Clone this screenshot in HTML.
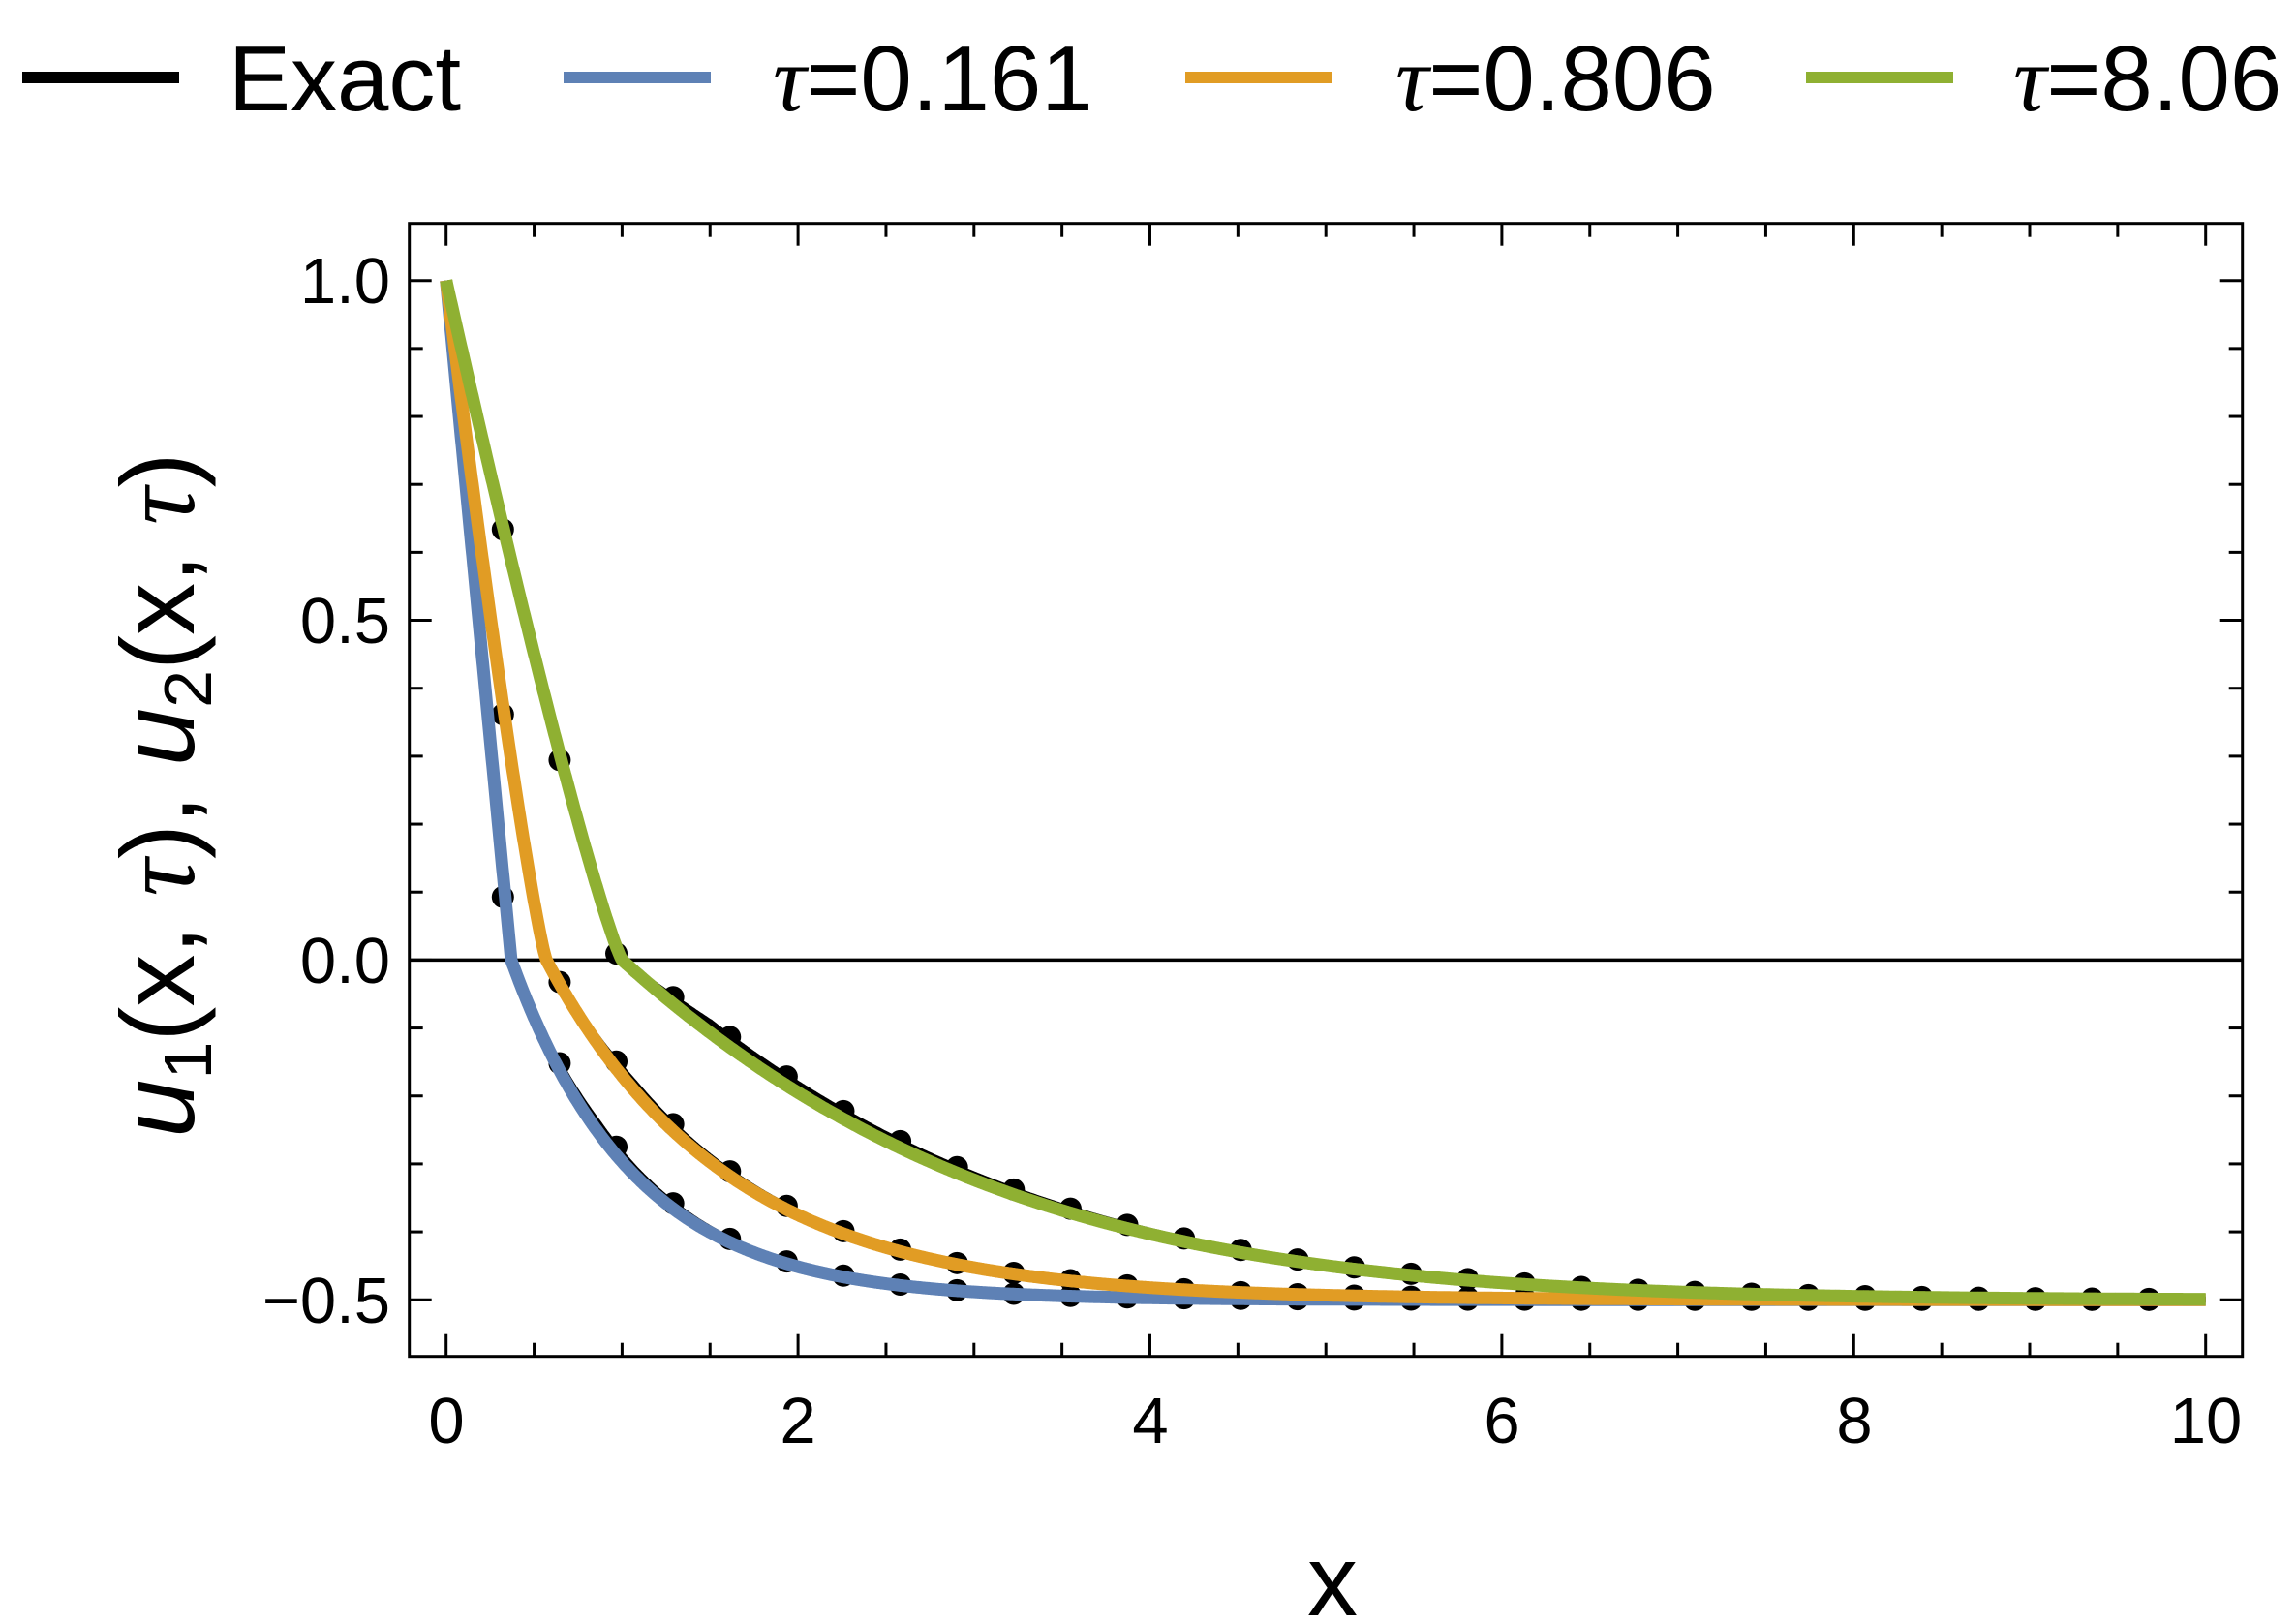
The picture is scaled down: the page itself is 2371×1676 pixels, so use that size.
<!DOCTYPE html>
<html><head><meta charset="utf-8"><style>
html,body{margin:0;padding:0;background:#fff;}
svg{display:block;}
text{font-family:"Liberation Sans","DejaVu Sans",sans-serif;fill:#000;}
</style></head><body>
<svg id="s" width="2371" height="1676" viewBox="0 0 2371 1676" xmlns="http://www.w3.org/2000/svg">
<rect width="2371" height="1676" fill="#fff"/>
<!-- legend -->
<line x1="23" y1="80" x2="185" y2="80" stroke="#000" stroke-width="12"/>
<text x="236" y="114" font-size="96">Exact</text>
<line x1="582" y1="80" x2="734" y2="80" stroke="#5E81B5" stroke-width="12"/>
<text x="798" y="114" font-size="96"><tspan font-style="italic" font-family="Liberation Serif, serif">τ</tspan>=0.161</text>
<line x1="1224" y1="80" x2="1376" y2="80" stroke="#E19C24" stroke-width="12"/>
<text x="1441" y="114" font-size="96"><tspan font-style="italic" font-family="Liberation Serif, serif">τ</tspan>=0.806</text>
<line x1="1865" y1="80" x2="2017" y2="80" stroke="#8FB032" stroke-width="12"/>
<text x="2079" y="114" font-size="96"><tspan font-style="italic" font-family="Liberation Serif, serif">τ</tspan>=8.06</text>

<g id="ticks" stroke="#000" stroke-width="3"></g>
<g id="curves"></g>
<rect x="422.7" y="230.7" width="1893" height="1170" fill="none" stroke="#000" stroke-width="3"/>

<!-- tick labels -->
<g font-size="67" text-anchor="end">
<text x="403" y="313">1.0</text>
<text x="403" y="664">0.5</text>
<text x="403" y="1015">0.0</text>
<text x="403" y="1366">−0.5</text>
</g>
<g font-size="67" text-anchor="middle">
<text x="461" y="1490">0</text>
<text x="824" y="1490">2</text>
<text x="1188" y="1490">4</text>
<text x="1551" y="1490">6</text>
<text x="1915" y="1490">8</text>
<text x="2278" y="1490">10</text>
</g>
<text x="1376" y="1668" font-size="104" text-anchor="middle">x</text>
<text transform="translate(200,821) rotate(-90)" font-size="108" text-anchor="middle"><tspan font-style="italic">u</tspan><tspan font-size="70" dy="18">1</tspan><tspan dy="-18">(x, </tspan><tspan font-style="italic" font-family="Liberation Serif, serif">τ</tspan><tspan>),  </tspan><tspan font-style="italic">u</tspan><tspan font-size="70" dy="18">2</tspan><tspan dy="-18">(x, </tspan><tspan font-style="italic" font-family="Liberation Serif, serif">τ</tspan><tspan>)</tspan></text>
</svg>
<script>
(function(){
var NS="http://www.w3.org/2000/svg";
function X(x){return 460.7+181.7*x;}
function Y(y){return 991.4-701.7*y;}
var L=422.7,R=2315.7,T=230.7,B=1400.7;
var tk=document.getElementById('ticks');
function ln(x1,y1,x2,y2,c,w,par){var e=document.createElementNS(NS,'line');e.setAttribute('x1',x1);e.setAttribute('y1',y1);e.setAttribute('x2',x2);e.setAttribute('y2',y2);e.setAttribute('stroke',c||'#000');e.setAttribute('stroke-width',w||3);(par||tk).appendChild(e);}
for(var i=0;i<=20;i++){var x=X(i*0.5);var len=(i%4==0)?23:14;ln(x,B,x,B-len);ln(x,T,x,T+len);}
for(var j=-5;j<=10;j++){var y=Y(j*0.1);if(y<T||y>B)continue;var len=(j%5==0)?23:14;ln(L,y,L+len,y);ln(R,y,R-len,y);}
var cv=document.getElementById('curves');
ln(L,Y(0),R,Y(0),'#000',3.5,cv);
var S=[{x0:0.37,p:1,ia:1.43,ib:0,c:'#5E81B5',sh:0.04},
       {x0:0.57,p:1.17,ia:0.97,ib:0,c:'#E19C24',sh:0.04},
       {x0:1.0,p:1.15,ia:0.468,ib:0.0263,c:'#8FB032',sh:0.08}];
function f(s,x){if(x<=s.x0)return Math.pow(Math.max(0,1-x/s.x0),s.p);var t=x-s.x0;return -0.5+0.5*Math.exp(-t*s.ia-t*t*s.ib);}
function ex(s,x){if(x<=s.x0+0.01){var xx=x*(s.x0+0.015)/s.x0;return f(s,xx>s.x0?s.x0:xx);}return f(s,Math.max(s.x0,x-s.sh*Math.min(1,(x-s.x0)*2)));}
function path(fn,s,col,w){var d='';for(var k=0;k<=2000;k++){var x=k*0.005;d+=(k?'L':'M')+X(x).toFixed(1)+' '+Y(fn(s,x)).toFixed(1);}var e=document.createElementNS(NS,'path');e.setAttribute('d',d);e.setAttribute('fill','none');e.setAttribute('stroke',col);e.setAttribute('stroke-width',w);e.setAttribute('stroke-linejoin','round');cv.appendChild(e);}
S.forEach(function(s){path(ex,s,'#000',6);});
S.forEach(function(s){for(var k=1;k<=30;k++){var x=k*10/31;var e=document.createElementNS(NS,'circle');e.setAttribute('cx',X(x));e.setAttribute('cy',Y(ex(s,x)));e.setAttribute('r',11.5);e.setAttribute('fill','#000');cv.appendChild(e);}});
S.forEach(function(s){path(f,s,s.c,13);});
})();
</script>
</body></html>
